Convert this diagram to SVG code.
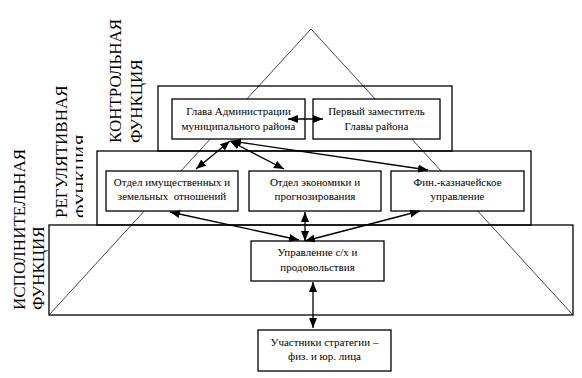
<svg xmlns="http://www.w3.org/2000/svg" width="582" height="378" viewBox="0 0 582 378">
<style>
.band{fill:none;stroke:#000;stroke-width:1.3}
.box{fill:#fff;stroke:#000;stroke-width:1.3}
.tri{fill:none;stroke:#444;stroke-width:1}
.t{font-size:11px;fill:#000;text-anchor:middle}
.lab{font-size:17px;fill:#000}
.c{stroke:#000;stroke-width:1.3;fill:none;marker-start:url(#ah);marker-end:url(#ah)}
</style>
<defs>
<marker id="ah" viewBox="0 0 10 8" refX="10" refY="4" markerWidth="10" markerHeight="8" markerUnits="userSpaceOnUse" orient="auto-start-reverse">
<path d="M0,0 L10,4 L0,8 Z" fill="#000"/>
</marker>
<clipPath id="clipReg"><rect x="0" y="0" width="83" height="378"/></clipPath>
</defs>
<polyline class="tri" points="49,315 311,29 573,315"/>
<rect class="band" x="158" y="86" width="294" height="65"/>
<rect class="band" x="97" y="151" width="434" height="74"/>
<rect class="band" x="49" y="225" width="524" height="90"/>
<g id="labels" font-family="Liberation Serif, serif">
<text class="lab" transform="translate(121,143) rotate(-90)">КОНТРОЛЬНАЯ</text>
<text class="lab" transform="translate(142,143) rotate(-90)">ФУНКЦИЯ</text>
<text class="lab" transform="translate(67,218) rotate(-90)">РЕГУЛЯТИВНАЯ</text>
<g clip-path="url(#clipReg)"><text class="lab" transform="translate(87,218) rotate(-90)">ФУНКЦИЯ</text></g>
<text class="lab" transform="translate(25,310) rotate(-90)">ИСПОЛНИТЕЛЬНАЯ</text>
<text class="lab" transform="translate(44,310) rotate(-90)">ФУНКЦИЯ</text>
</g>
<g font-family="Liberation Serif, serif">
<g id="glava"><rect class="box" x="172" y="99" width="133" height="40"/><text class="t" x="238.5" y="115">Глава Администрации</text><text class="t" x="238.5" y="130">муниципального района</text></g>
<g id="perviy"><rect class="box" x="313" y="99" width="127" height="40"/><text class="t" x="376.5" y="115">Первый заместитель</text><text class="t" x="376.5" y="130">Главы района</text></g>
<g id="otdel-imush"><rect class="box" x="106" y="171" width="132" height="40"/><text class="t" x="172" y="186">Отдел имущественных и</text><text class="t" x="172" y="200" xml:space="preserve">земельных  отношений</text></g>
<g id="otdel-econ"><rect class="box" x="249" y="171" width="132" height="40"/><text class="t" x="315" y="186">Отдел экономики и</text><text class="t" x="315" y="200">прогнозирования</text></g>
<g id="fin"><rect class="box" x="391" y="171" width="133" height="40"/><text class="t" x="457.5" y="186">Фин.-казначейское</text><text class="t" x="457.5" y="200">управление</text></g>
<g id="upr-sh"><rect class="box" x="251" y="241" width="133" height="40"/><text class="t" x="317.5" y="256">Управление с/х и</text><text class="t" x="317.5" y="271">продовольствия</text></g>
<g id="uchastniki"><rect class="box" x="258" y="330" width="133" height="41"/><text class="t" x="324.5" y="346">Участники стратегии –</text><text class="t" x="324.5" y="360">физ. и юр. лица</text></g>
</g>
<g id="connectors">
<line class="c" x1="288" y1="119" x2="323" y2="119"/>
<line class="c" x1="230" y1="141" x2="196" y2="169"/>
<line class="c" x1="230" y1="141" x2="284" y2="169"/>
<line class="c" x1="231" y1="141" x2="428" y2="170"/>
<line class="c" x1="170" y1="212" x2="299" y2="240"/>
<line class="c" x1="305" y1="212" x2="305" y2="241"/>
<line class="c" x1="420" y1="211" x2="305" y2="241"/>
<line class="c" x1="313" y1="282" x2="313" y2="328"/>
</g>
</svg>
